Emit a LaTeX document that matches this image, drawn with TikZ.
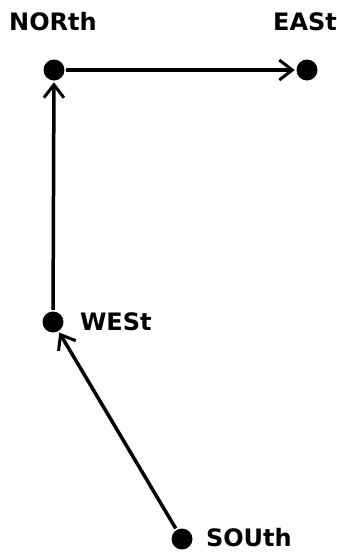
\documentclass[tikz,border=0pt]{standalone}
\usepackage{fontspec}
\setmainfont{DejaVu Sans}
\usetikzlibrary{arrows.meta,positioning}

\begin{document}
\begin{tikzpicture}[x=1pt, y=-1pt, line width=3.5pt]
        \tikzset{
            point/.style={circle, fill=black, inner sep=0pt, minimum size=21pt},
            lbl/.style={font=\fontsize{24}{24}\selectfont\bfseries, inner sep=0pt},
            line/.style={draw, -{Straight Barb[length=13pt, width=20pt, line width=3pt]}}
        }

        % Points
        \node [point] (north) at (54, 70) {};
        \node [point] (east) at (307, 70) {};
        \node [point] (west) at (53, 322) {};
        \node [point] (south) at (182, 539) {};

        % Labels
        \node [lbl] (northlbl) at (53, 22) {NORth};
        \node [lbl] (eastlbl) at (305, 22) {EASt};
        \node [lbl, right=13pt of west] (westlbl) {WESt};
        \node [lbl, right=10pt of south, yshift=1pt] (southlbl) {SOUth};

        % Connections
        \draw [line] (north) -- (east);
        \draw [line] (west) -- (north);
        \draw [line] (south) -- (west);

        \useasboundingbox (0, 0) rectangle (337, 552);
\end{tikzpicture}
\end{document}
